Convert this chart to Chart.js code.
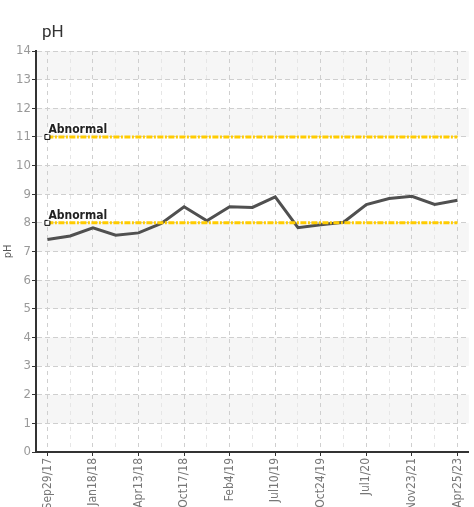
<!DOCTYPE html>
<html>
<head>
<meta charset="utf-8">
<script src="https://cdn.jsdelivr.net/npm/chart.js@4.4.0/dist/chart.umd.min.js"></script>
<style>
  html, body { margin: 0; padding: 0; background: #fff; overflow: hidden; }
  #wrap { width: 474px; height: 507px; }
</style>
</head>
<body>
<div id="wrap"><canvas id="phChart" width="474" height="507"></canvas></div>
<script>
// tick labels shown under every second reading
const dateLabels = ['Sep29/17', 'Jan18/18', 'Apr13/18', 'Oct17/18', 'Feb4/19', 'Jul10/19', 'Oct24/19', 'Jul1/20', 'Nov23/21', 'Apr25/23'];
// pH readings, one per slot (19 slots, labels on the even ones)
const phValues = [7.42, 7.54, 7.83, 7.57, 7.65, 7.98, 8.56, 8.07, 8.56, 8.54, 8.91, 7.83, 7.93, 8.02, 8.64, 8.85, 8.93, 8.64, 8.79];
// abnormal thresholds
const limitValues = [11, 8];
const limitLabel = 'Abnormal';
const yTicks = [0, 1, 2, 3, 4, 5, 6, 7, 8, 9, 10, 11, 12, 13, 14];

const slots = phValues.map((v, i) => i);
const lastSlot = slots[slots.length - 1];
const narrow = '"Liberation Sans Narrow", "DejaVu Sans Condensed", sans-serif';

// shaded bands behind the grid (1-2, 3-4, ...)
const bandPlugin = {
    id: 'bands',
    beforeDraw(chart) {
        const { ctx, chartArea, scales } = chart;
        ctx.save();
        ctx.fillStyle = '#f6f6f6';
        for (let v = 1; v < 14; v += 2) {
            const top = scales.y.getPixelForValue(v + 1);
            const bottom = scales.y.getPixelForValue(v);
            ctx.fillRect(chartArea.left, top, chartArea.right - chartArea.left, bottom - top);
        }
        ctx.restore();
    }
};

// title and threshold captions
const textPlugin = {
    id: 'texts',
    afterDraw(chart) {
        const { ctx, scales } = chart;
        ctx.save();
        ctx.fillStyle = '#333';
        ctx.font = '17px Roboto, "Noto Sans", sans-serif';
        ctx.textAlign = 'left';
        ctx.textBaseline = 'alphabetic';
        ctx.fillText('pH', 42, 37);

        ctx.font = 'bold 12px ' + narrow;
        ctx.lineJoin = 'round';
        limitValues.forEach(v => {
            const x = scales.x.getPixelForValue(0) + 1;
            const y = scales.y.getPixelForValue(v) - 4;
            ctx.strokeStyle = '#fff';
            ctx.lineWidth = 3;
            ctx.strokeText(limitLabel, x, y);
            ctx.fillStyle = '#222';
            ctx.fillText(limitLabel, x, y);
        });
        ctx.restore();
    }
};

const limitSets = limitValues.map(v => ({
    label: limitLabel + ' ' + v,
    data: [{ x: 0, y: v }, { x: lastSlot, y: v }],
    borderColor: '#ffcc00',
    borderWidth: 3,
    borderDash: [6, 1.5, 2, 1.5],
    pointRadius: ctx => (ctx.dataIndex === 0 ? 3.5 : 0),
    pointStyle: 'rect',
    pointBackgroundColor: '#fff',
    pointBorderColor: '#000',
    pointBorderWidth: 1,
    tension: 0
}));

const chart = new Chart(document.getElementById('phChart').getContext('2d'), {
    type: 'line',
    data: {
        datasets: [
            ...limitSets,
            {
                label: 'pH',
                data: phValues.map((v, i) => ({ x: slots[i], y: v })),
                borderColor: '#505050',
                borderWidth: 3,
                pointRadius: 0,
                tension: 0
            }
        ]
    },
    options: {
        responsive: false,
        animation: false,
        layout: { padding: { top: 51, left: 0, right: 4, bottom: 0 } },
        plugins: {
            legend: { display: false },
            tooltip: { enabled: false }
        },
        scales: {
            x: {
                type: 'linear',
                min: -0.5,
                max: lastSlot + 0.5,
                afterBuildTicks: s => { s.ticks = slots.map(v => ({ value: v })); },
                afterFit: s => { s.height = 55; },
                ticks: {
                    autoSkip: false,
                    minRotation: 90,
                    maxRotation: 90,
                    padding: 2,
                    color: '#777',
                    font: { family: narrow, size: 12 },
                    callback: v => (v % 2 === 0 ? dateLabels[v / 2] : '')
                },
                grid: {
                    color: c => (c.tick && c.tick.value % 2 === 0 ? '#cfcfcf' : '#e6e6e6'),
                    tickColor: c => (c.tick && c.tick.value % 2 === 0 ? '#333' : 'rgba(0,0,0,0)'),
                    tickLength: 4,
                    lineWidth: 1
                },
                border: { display: true, color: '#333', width: 2, dash: [4, 4] }
            },
            y: {
                min: 0,
                max: 14,
                afterBuildTicks: s => { s.ticks = yTicks.map(v => ({ value: v })); },
                afterFit: s => { s.width = 36; },
                ticks: {
                    padding: 1,
                    color: '#999',
                    font: { family: narrow, size: 13 }
                },
                title: {
                    display: true,
                    text: 'pH',
                    color: '#555',
                    font: { family: narrow, size: 11 },
                    padding: { top: 2, bottom: 0 }
                },
                grid: {
                    color: '#cfcfcf',
                    tickColor: '#333',
                    tickLength: 4,
                    lineWidth: 1
                },
                border: { display: true, color: '#333', width: 2, dash: [5, 3] }
            }
        }
    },
    plugins: [bandPlugin, textPlugin]
});
</script>
</body>
</html>
